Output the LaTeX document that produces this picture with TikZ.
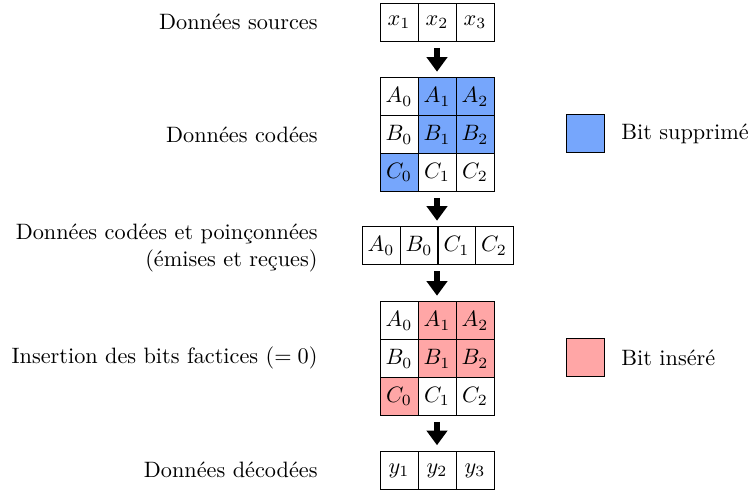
\documentclass[tikz,border=0pt]{standalone}
\usetikzlibrary{arrows.meta}
\definecolor{supbleu}{RGB}{118,166,252}
\definecolor{insrose}{RGB}{255,166,166}
\begin{document}
\begin{tikzpicture}[x=0.4493pt,y=-0.4493pt,
  cell/.style={draw, minimum width=0.6cm, minimum height=0.6cm, inner sep=0pt, line width=0.45pt},
  lab/.style={anchor=east, align=right, inner sep=0pt},
  leg/.style={anchor=west, inner sep=0pt},
  bigarrow/.style={-{Triangle[width=9pt,length=6.5pt]}, line width=3pt, shorten <=2.6pt, shorten >=2.6pt}]
\useasboundingbox (0,0) rectangle (751,493);
% top row
\node[cell] (x1) at (399,22.5) {$x_1$};
\node[cell] (x2) at (437,22.5) {$x_2$};
\node[cell] (x3) at (475,22.5) {$x_3$};
% coded grid
\node[cell] (a0) at (399,97) {$A_0$};
\node[cell,fill=supbleu] (a1) at (437,97) {$A_1$};
\node[cell,fill=supbleu] (a2) at (475,97) {$A_2$};
\node[cell] (b0) at (399,135) {$B_0$};
\node[cell,fill=supbleu] (b1) at (437,135) {$B_1$};
\node[cell,fill=supbleu] (b2) at (475,135) {$B_2$};
\node[cell,fill=supbleu] (c0) at (399,172.5) {$C_0$};
\node[cell] (c1) at (437,172.5) {$C_1$};
\node[cell] (c2) at (475,172.5) {$C_2$};
% punctured row
\node[cell] (p1) at (381,246) {$A_0$};
\node[cell] (p2) at (419,246) {$B_0$};
\node[cell] (p3) at (456.5,246) {$C_1$};
\node[cell] (p4) at (494,246) {$C_2$};
% inserted grid
\node[cell] (e0) at (399,321) {$A_0$};
\node[cell,fill=insrose] (e1) at (437,321) {$A_1$};
\node[cell,fill=insrose] (e2) at (475,321) {$A_2$};
\node[cell] (f0) at (399,359) {$B_0$};
\node[cell,fill=insrose] (f1) at (437,359) {$B_1$};
\node[cell,fill=insrose] (f2) at (475,359) {$B_2$};
\node[cell,fill=insrose] (g0) at (399,396.5) {$C_0$};
\node[cell] (g1) at (437,396.5) {$C_1$};
\node[cell] (g2) at (475,396.5) {$C_2$};
% decoded row
\node[cell] (y1) at (399,470.5) {$y_1$};
\node[cell] (y2) at (437,470.5) {$y_2$};
\node[cell] (y3) at (475,470.5) {$y_3$};
% arrows
\draw[bigarrow] (x2.south) -- (a1.north);
\draw[bigarrow] (c1.south) -- (c1.south |- p3.north);
\draw[bigarrow] (c1.south |- p3.south) -- (e1.north);
\draw[bigarrow] (g1.south) -- (y2.north);
% labels
\node[lab] (l1) at (318,22) {Données sources};
\node[lab] (l2) at (318,135) {Données codées};
\node[lab] (l3) at (318,248) {Données codées et poinçonnées\\(émises et reçues)};
\node[lab] (l4) at (318,358) {Insertion des bits factices ($=0$)};
\node[lab] (l5) at (318,470) {Données décodées};
% legend
\node[cell,fill=supbleu] (s1) at (585.5,134) {};
\node[leg] (t1) at (621,134) {Bit supprimé};
\node[cell,fill=insrose] (s2) at (585.5,358) {};
\node[leg] (t2) at (621,358) {Bit inséré};
\end{tikzpicture}
\end{document}
